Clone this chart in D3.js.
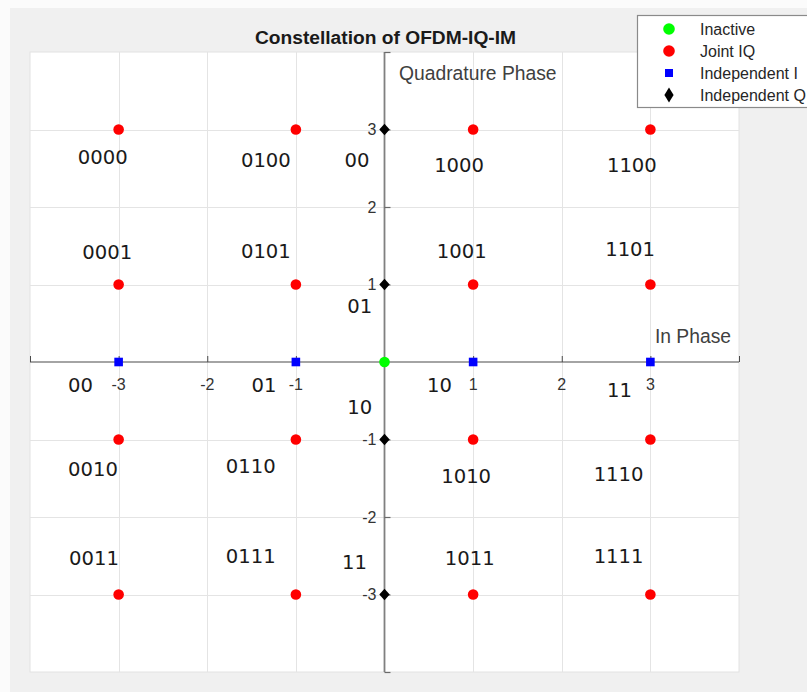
<!DOCTYPE html>
<html>
<head>
<meta charset="utf-8">
<script src="https://cdn.jsdelivr.net/npm/d3@7"></script>
<style>
  html, body { margin: 0; padding: 0; background: #ffffff; }
  svg { display: block; }
</style>
</head>
<body>
<script>
// Constellation points of OFDM-IQ-IM, in units of the I/Q plane
const inactiveI = [0];
const inactiveQ = [0];

const jointI = [-3, -1, 1, 3, -3, -1, 1, 3, -3, -1, 1, 3, -3, -1, 1, 3];
const jointQ = [ 3,  3, 3, 3,  1,  1, 1, 1, -1, -1, -1, -1, -3, -3, -3, -3];

const indepII = [-3, -1, 1, 3];
const indepIQ = [ 0,  0, 0, 0];

const indepQI = [0, 0, 0, 0];
const indepQQ = [3, 1, -1, -3];

// Bit-pattern annotations and where they sit in the plane
const bitText = ["0000", "0100", "00", "0001", "0101", "01",
                 "1000", "1100", "1001", "1101",
                 "00", "01", "10", "10", "11",
                 "0010", "0110", "0011", "0111", "11",
                 "1010", "1110", "1011", "1111"];
const bitI = [-3.46, -1.62, -0.45, -3.41, -1.62, -0.42,
              0.56, 2.51, 0.59, 2.49,
              -3.57, -1.50, -0.42, 0.48, 2.51,
              -3.57, -1.79, -3.56, -1.79, -0.48,
              0.64, 2.36, 0.68, 2.36];
const bitQ = [2.55, 2.52, 2.52, 1.33, 1.34, 0.63,
              2.45, 2.45, 1.34, 1.37,
              -0.39, -0.39, -0.67, -0.39, -0.45,
              -1.47, -1.43, -2.62, -2.59, -2.67,
              -1.56, -1.54, -2.62, -2.59];

const tickValues = [-3, -2, -1, 1, 2, 3];
const axisLimits = [-4, 4];

const legendNames = ["Inactive", "Joint IQ", "Independent I", "Independent Q"];

const W = 807, H = 692;
const plot = { left: 30, right: 739, top: 52, bottom: 672 };

const svg = d3.select("body").append("svg")
  .attr("width", W).attr("height", H)
  .style("font-family", "'Liberation Sans', Arial, Helvetica, sans-serif");

// figure background
svg.append("rect").attr("x", 0).attr("y", 0).attr("width", W).attr("height", H).attr("fill", "#fbfbfb");
svg.append("rect").attr("x", 10).attr("y", 8).attr("width", W - 10).attr("height", H - 8).attr("fill", "#f0f0f0");

const x = d3.scaleLinear().domain(axisLimits).range([plot.left, plot.right]);
const y = d3.scaleLinear().domain(axisLimits).range([plot.bottom, plot.top]);

// axes area
svg.append("rect")
  .attr("x", plot.left).attr("y", plot.top)
  .attr("width", plot.right - plot.left).attr("height", plot.bottom - plot.top)
  .attr("fill", "#ffffff").attr("stroke", "#e2e2e2").attr("stroke-width", 1);

// grid
const grid = svg.append("g").attr("stroke", "#e4e4e4").attr("stroke-width", 1);
grid.selectAll("line.gx").data(tickValues).join("line")
  .attr("x1", d => Math.round(x(d)) + 0.5).attr("x2", d => Math.round(x(d)) + 0.5)
  .attr("y1", plot.top).attr("y2", plot.bottom);
grid.selectAll("line.gy").data(tickValues).join("line")
  .attr("y1", d => Math.round(y(d)) + 0.5).attr("y2", d => Math.round(y(d)) + 0.5)
  .attr("x1", plot.left).attr("x2", plot.right);

// horizontal axis through the origin, ticks pointing up
const xAxis = d3.axisTop(x)
  .tickValues([-4, -3, -2, -1, 1, 2, 3, 4])
  .tickSize(6)
  .tickFormat("");
const gx = svg.append("g").attr("transform", `translate(0,${y(0)})`).call(xAxis);
gx.select(".domain").attr("stroke", "#4a4a4a").attr("stroke-width", 1.2).attr("d", `M${plot.left},0H${plot.right}`);
gx.selectAll(".tick line").attr("stroke", "#4a4a4a");

// vertical axis through the origin, ticks pointing right
const yAxis = d3.axisRight(y)
  .tickValues([-4, -3, -2, -1, 1, 2, 3, 4])
  .tickSize(6)
  .tickFormat("");
const gy = svg.append("g").attr("transform", `translate(${x(0)},0)`).call(yAxis);
gy.select(".domain").attr("stroke", "#808080").attr("stroke-width", 1.8).attr("d", `M0,${plot.top}V${plot.bottom}`);
gy.selectAll(".tick line").attr("stroke", "#6a6a6a").attr("stroke-width", 1.2);

// tick labels
svg.append("g").selectAll("text").data(tickValues).join("text")
  .attr("x", d => x(d)).attr("y", y(0) + 28)
  .attr("text-anchor", "middle")
  .attr("font-size", 16).attr("fill", "#333333")
  .text(d => String(d));
svg.append("g").selectAll("text").data(tickValues).join("text")
  .attr("x", x(0) - 8).attr("y", d => y(d))
  .attr("dy", "0.36em")
  .attr("text-anchor", "end")
  .attr("font-size", 16).attr("fill", "#333333")
  .text(d => String(d));

// axis labels
svg.append("text").attr("x", x(0) + 14.5).attr("y", 80)
  .attr("font-size", 19.3).attr("fill", "#404040").text("Quadrature Phase");
svg.append("text").attr("x", plot.right - 8).attr("y", 343)
  .attr("text-anchor", "end")
  .attr("font-size", 19.3).attr("fill", "#404040").text("In Phase");

// title
svg.append("text").attr("x", (plot.left + plot.right) / 2 + 1).attr("y", 44)
  .attr("text-anchor", "middle").attr("font-weight", "bold")
  .attr("font-size", 19.2).attr("fill", "#1a1a1a").text("Constellation of OFDM-IQ-IM");

// markers
const toPts = (xs, ys) => xs.map((v, i) => ({ i: v, q: ys[i] }));
const diamond = (cx, cy, hw, hh) => `M${cx},${cy - hh}L${cx + hw},${cy}L${cx},${cy + hh}L${cx - hw},${cy}Z`;

svg.append("g").selectAll("circle").data(toPts(jointI, jointQ)).join("circle")
  .attr("cx", d => x(d.i)).attr("cy", d => y(d.q)).attr("r", 5.3).attr("fill", "#ff0000");

svg.append("g").selectAll("rect").data(toPts(indepII, indepIQ)).join("rect")
  .attr("x", d => x(d.i) - 4.3).attr("y", d => y(d.q) - 4.3)
  .attr("width", 8.6).attr("height", 8.6).attr("fill", "#0000ff");

svg.append("g").selectAll("path").data(toPts(indepQI, indepQQ)).join("path")
  .attr("d", d => diamond(x(d.i), y(d.q), 5.2, 5.8)).attr("fill", "#000000");

svg.append("g").selectAll("circle").data(toPts(inactiveI, inactiveQ)).join("circle")
  .attr("cx", d => x(d.i)).attr("cy", d => y(d.q)).attr("r", 5.3).attr("fill", "#00ff00");

// bit-pattern annotations
svg.append("g").selectAll("text").data(bitText).join("text")
  .attr("x", (d, k) => x(bitI[k])).attr("y", (d, k) => y(bitQ[k]))
  .attr("font-family", "'DejaVu Sans', Verdana, sans-serif")
  .attr("font-size", 19.6).attr("fill", "#1a1a1a")
  .text(d => d);

// legend
const lg = svg.append("g");
lg.append("rect").attr("x", 637.5).attr("y", 15.5).attr("width", 180).attr("height", 92)
  .attr("fill", "#ffffff").attr("stroke", "#8a8a8a").attr("stroke-width", 1.2);
const rows = [29, 51, 73, 95];
const mx = 669;
lg.append("circle").attr("cx", mx).attr("cy", rows[0]).attr("r", 5.8).attr("fill", "#00ff00");
lg.append("circle").attr("cx", mx).attr("cy", rows[1]).attr("r", 5.8).attr("fill", "#ff0000");
lg.append("rect").attr("x", mx - 4).attr("y", rows[2] - 4).attr("width", 8).attr("height", 8).attr("fill", "#0000ff");
lg.append("path").attr("d", diamond(mx, rows[3], 4.6, 7.5)).attr("fill", "#000000");
lg.selectAll("text").data(legendNames).join("text")
  .attr("x", 700).attr("y", (d, k) => rows[k])
  .attr("dy", "0.36em")
  .attr("font-size", 16).attr("fill", "#262626")
  .text(d => d);
</script>
</body>
</html>
